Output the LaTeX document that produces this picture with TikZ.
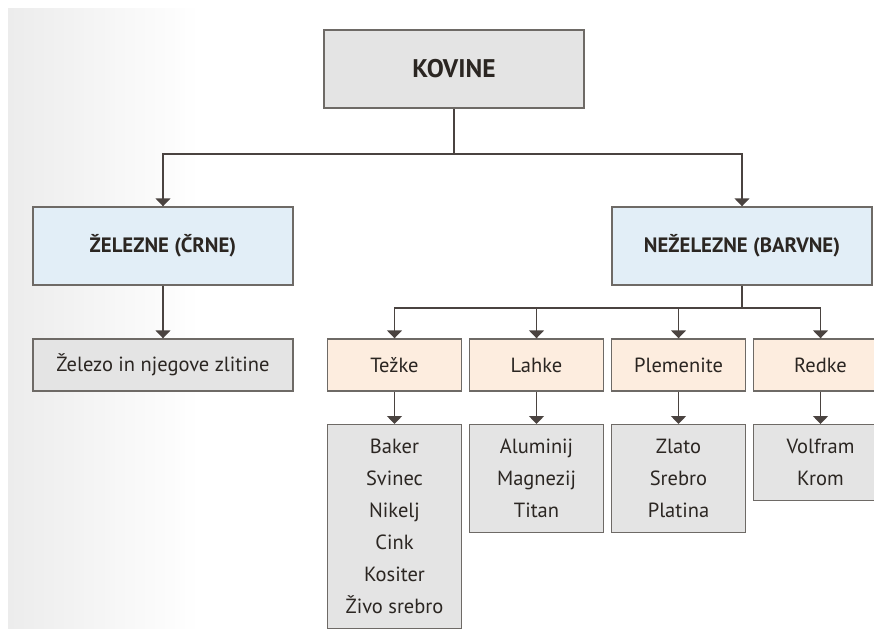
\documentclass[tikz,border=0pt]{standalone}
\usepackage{fontspec}
\setmainfont{PT Sans}
\usetikzlibrary{arrows.meta,positioning}
\definecolor{txt}{HTML}{2B2622}
\definecolor{edge}{HTML}{6E6A66}
\definecolor{conn}{HTML}{4A4340}
\definecolor{grayfill}{HTML}{E4E4E4}
\definecolor{bluefill}{HTML}{E2EEF7}
\definecolor{orangefill}{HTML}{FDEDDF}
\definecolor{bggray}{HTML}{ECECEC}
\tikzset{
  box/.style={draw=edge, line width=1.4pt, text=txt, inner sep=0pt, anchor=center},
  topbox/.style={box, fill=grayfill, minimum width=260pt, minimum height=78pt, font=\fontsize{25.5}{28}\selectfont\bfseries},
  catbox/.style={box, fill=bluefill, minimum width=260pt, minimum height=78pt, font=\fontsize{20.8}{24}\selectfont\bfseries},
  leafbox/.style={box, fill=grayfill, minimum width=260pt, minimum height=52pt, font=\fontsize{20.5}{24}\selectfont},
  subbox/.style={box, fill=orangefill, minimum width=134pt, minimum height=52pt, font=\fontsize{20.5}{24}\selectfont},
  listbox/.style={box, fill=grayfill, minimum width=134pt, align=center, font=\fontsize{20.5}{32}\selectfont, anchor=north, inner ysep=8pt},
  conline/.style={draw=conn, line width=1.4pt},
  arr/.style={conline, -{Triangle[width=15pt,length=8pt]}},
}
\begin{document}
\begin{tikzpicture}[x=1pt,y=-1pt]
\useasboundingbox (0,0) rectangle (874,629);
\clip (0,0) rectangle (874,629);
\shade[left color=bggray, right color=white] (8,8) rectangle (200,628);

\node[topbox] (kov) at (454,69) {KOVINE};
\node[catbox] (zel) at (163,246) {ŽELEZNE (ČRNE)};
\node[catbox] (nez) at (742,246) {NEŽELEZNE (BARVNE)};
\node[leafbox] (zz) at (163,365) {Železo in njegove zlitine};

\node[subbox] (tez) at (394.5,365) {Težke};
\node[subbox] (lah) at (536.5,365) {Lahke};
\node[subbox] (ple) at (678.5,365) {Plemenite};
\node[subbox] (red) at (820.5,365) {Redke};

\node[listbox, minimum height=204pt] (tezl) at (394.5,424) {Baker\\Svinec\\Nikelj\\Cink\\Kositer\\Živo srebro};
\node[listbox, minimum height=108pt] (lahl) at (536.5,424) {Aluminij\\Magnezij\\Titan};
\node[listbox, minimum height=108pt] (plel) at (678.5,424) {Zlato\\Srebro\\Platina};
\node[listbox, minimum height=76pt] (redl) at (820.5,424) {Volfram\\Krom};

\coordinate (j1) at (454,154);
\coordinate (j2) at (742,308);

\draw[conline] (kov.south) -- (j1);
\draw[arr] (j1) -| (zel.north);
\draw[arr] (j1) -| (nez.north);
\draw[arr] (zel.south) -- (zz.north);

\draw[conline] (nez.south) -- (j2);
\draw[arr] (j2) -| (tez.north);
\draw[arr] (j2) -| (lah.north);
\draw[arr] (j2) -| (ple.north);
\draw[arr] (j2) -| (red.north);

\draw[arr] (tez.south) -- (tezl.north);
\draw[arr] (lah.south) -- (lahl.north);
\draw[arr] (ple.south) -- (plel.north);
\draw[arr] (red.south) -- (redl.north);
\end{tikzpicture}
\end{document}
